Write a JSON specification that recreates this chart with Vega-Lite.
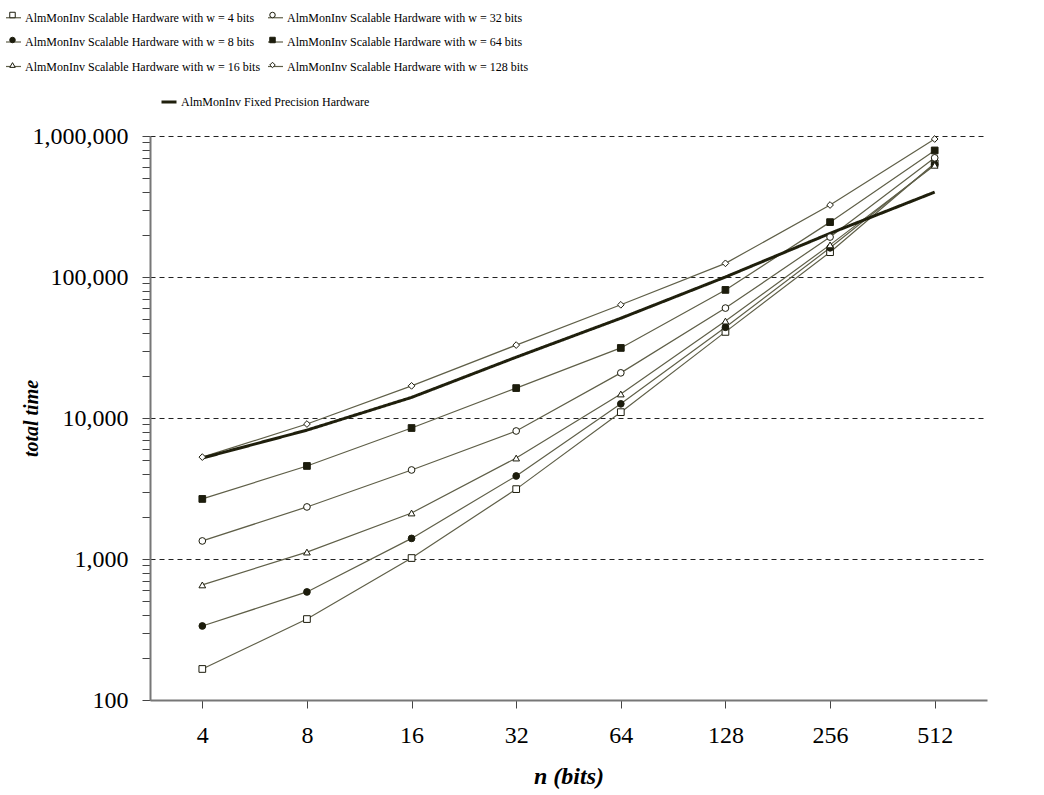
{
  "$schema": "https://vega.github.io/schema/vega-lite/v6.json",
  "width": 837,
  "height": 564,
  "autosize": {"type": "none"},
  "padding": {"left": 150, "top": 136, "right": 57, "bottom": 95},
  "background": "white",
  "config": {"font": "Liberation Serif", "view": {"stroke": null}},
  "datasets": {
    "rows": [
      {"n": 4, "t": 166, "s": "AlmMonInv Scalable Hardware with w = 4 bits", "m": "AlmMonInv Scalable Hardware with w = 4 bits"},
      {"n": 8, "t": 375, "s": "AlmMonInv Scalable Hardware with w = 4 bits", "m": "AlmMonInv Scalable Hardware with w = 4 bits"},
      {"n": 16, "t": 1016, "s": "AlmMonInv Scalable Hardware with w = 4 bits", "m": "AlmMonInv Scalable Hardware with w = 4 bits"},
      {"n": 32, "t": 3130, "s": "AlmMonInv Scalable Hardware with w = 4 bits", "m": "AlmMonInv Scalable Hardware with w = 4 bits"},
      {"n": 64, "t": 11000, "s": "AlmMonInv Scalable Hardware with w = 4 bits", "m": "AlmMonInv Scalable Hardware with w = 4 bits"},
      {"n": 128, "t": 40800, "s": "AlmMonInv Scalable Hardware with w = 4 bits", "m": "AlmMonInv Scalable Hardware with w = 4 bits"},
      {"n": 256, "t": 150000, "s": "AlmMonInv Scalable Hardware with w = 4 bits", "m": "AlmMonInv Scalable Hardware with w = 4 bits"},
      {"n": 512, "t": 640000, "s": "AlmMonInv Scalable Hardware with w = 4 bits", "m": "AlmMonInv Scalable Hardware with w = 4 bits"},

      {"n": 4, "t": 335, "s": "AlmMonInv Scalable Hardware with w = 8 bits", "m": "AlmMonInv Scalable Hardware with w = 8 bits"},
      {"n": 8, "t": 584, "s": "AlmMonInv Scalable Hardware with w = 8 bits", "m": "AlmMonInv Scalable Hardware with w = 8 bits"},
      {"n": 16, "t": 1400, "s": "AlmMonInv Scalable Hardware with w = 8 bits", "m": "AlmMonInv Scalable Hardware with w = 8 bits"},
      {"n": 32, "t": 3880, "s": "AlmMonInv Scalable Hardware with w = 8 bits", "m": "AlmMonInv Scalable Hardware with w = 8 bits"},
      {"n": 64, "t": 12600, "s": "AlmMonInv Scalable Hardware with w = 8 bits", "m": "AlmMonInv Scalable Hardware with w = 8 bits"},
      {"n": 128, "t": 44000, "s": "AlmMonInv Scalable Hardware with w = 8 bits", "m": "AlmMonInv Scalable Hardware with w = 8 bits"},
      {"n": 256, "t": 161000, "s": "AlmMonInv Scalable Hardware with w = 8 bits", "m": "AlmMonInv Scalable Hardware with w = 8 bits"},
      {"n": 512, "t": 630000, "s": "AlmMonInv Scalable Hardware with w = 8 bits", "m": "AlmMonInv Scalable Hardware with w = 8 bits"},

      {"n": 4, "t": 655, "s": "AlmMonInv Scalable Hardware with w = 16 bits", "m": "AlmMonInv Scalable Hardware with w = 16 bits"},
      {"n": 8, "t": 1120, "s": "AlmMonInv Scalable Hardware with w = 16 bits", "m": "AlmMonInv Scalable Hardware with w = 16 bits"},
      {"n": 16, "t": 2120, "s": "AlmMonInv Scalable Hardware with w = 16 bits", "m": "AlmMonInv Scalable Hardware with w = 16 bits"},
      {"n": 32, "t": 5200, "s": "AlmMonInv Scalable Hardware with w = 16 bits", "m": "AlmMonInv Scalable Hardware with w = 16 bits"},
      {"n": 64, "t": 14800, "s": "AlmMonInv Scalable Hardware with w = 16 bits", "m": "AlmMonInv Scalable Hardware with w = 16 bits"},
      {"n": 128, "t": 48700, "s": "AlmMonInv Scalable Hardware with w = 16 bits", "m": "AlmMonInv Scalable Hardware with w = 16 bits"},
      {"n": 256, "t": 169000, "s": "AlmMonInv Scalable Hardware with w = 16 bits", "m": "AlmMonInv Scalable Hardware with w = 16 bits"},
      {"n": 512, "t": 620000, "s": "AlmMonInv Scalable Hardware with w = 16 bits", "m": "AlmMonInv Scalable Hardware with w = 16 bits"},

      {"n": 4, "t": 1343, "s": "AlmMonInv Scalable Hardware with w = 32 bits", "m": "AlmMonInv Scalable Hardware with w = 32 bits"},
      {"n": 8, "t": 2340, "s": "AlmMonInv Scalable Hardware with w = 32 bits", "m": "AlmMonInv Scalable Hardware with w = 32 bits"},
      {"n": 16, "t": 4280, "s": "AlmMonInv Scalable Hardware with w = 32 bits", "m": "AlmMonInv Scalable Hardware with w = 32 bits"},
      {"n": 32, "t": 8090, "s": "AlmMonInv Scalable Hardware with w = 32 bits", "m": "AlmMonInv Scalable Hardware with w = 32 bits"},
      {"n": 64, "t": 20900, "s": "AlmMonInv Scalable Hardware with w = 32 bits", "m": "AlmMonInv Scalable Hardware with w = 32 bits"},
      {"n": 128, "t": 60200, "s": "AlmMonInv Scalable Hardware with w = 32 bits", "m": "AlmMonInv Scalable Hardware with w = 32 bits"},
      {"n": 256, "t": 192000, "s": "AlmMonInv Scalable Hardware with w = 32 bits", "m": "AlmMonInv Scalable Hardware with w = 32 bits"},
      {"n": 512, "t": 700000, "s": "AlmMonInv Scalable Hardware with w = 32 bits", "m": "AlmMonInv Scalable Hardware with w = 32 bits"},

      {"n": 4, "t": 2667, "s": "AlmMonInv Scalable Hardware with w = 64 bits", "m": "AlmMonInv Scalable Hardware with w = 64 bits"},
      {"n": 8, "t": 4570, "s": "AlmMonInv Scalable Hardware with w = 64 bits", "m": "AlmMonInv Scalable Hardware with w = 64 bits"},
      {"n": 16, "t": 8490, "s": "AlmMonInv Scalable Hardware with w = 64 bits", "m": "AlmMonInv Scalable Hardware with w = 64 bits"},
      {"n": 32, "t": 16300, "s": "AlmMonInv Scalable Hardware with w = 64 bits", "m": "AlmMonInv Scalable Hardware with w = 64 bits"},
      {"n": 64, "t": 31400, "s": "AlmMonInv Scalable Hardware with w = 64 bits", "m": "AlmMonInv Scalable Hardware with w = 64 bits"},
      {"n": 128, "t": 81000, "s": "AlmMonInv Scalable Hardware with w = 64 bits", "m": "AlmMonInv Scalable Hardware with w = 64 bits"},
      {"n": 256, "t": 245000, "s": "AlmMonInv Scalable Hardware with w = 64 bits", "m": "AlmMonInv Scalable Hardware with w = 64 bits"},
      {"n": 512, "t": 790000, "s": "AlmMonInv Scalable Hardware with w = 64 bits", "m": "AlmMonInv Scalable Hardware with w = 64 bits"},

      {"n": 4, "t": 5280, "s": "AlmMonInv Scalable Hardware with w = 128 bits", "m": "AlmMonInv Scalable Hardware with w = 128 bits"},
      {"n": 8, "t": 9060, "s": "AlmMonInv Scalable Hardware with w = 128 bits", "m": "AlmMonInv Scalable Hardware with w = 128 bits"},
      {"n": 16, "t": 16900, "s": "AlmMonInv Scalable Hardware with w = 128 bits", "m": "AlmMonInv Scalable Hardware with w = 128 bits"},
      {"n": 32, "t": 32900, "s": "AlmMonInv Scalable Hardware with w = 128 bits", "m": "AlmMonInv Scalable Hardware with w = 128 bits"},
      {"n": 64, "t": 63500, "s": "AlmMonInv Scalable Hardware with w = 128 bits", "m": "AlmMonInv Scalable Hardware with w = 128 bits"},
      {"n": 128, "t": 125000, "s": "AlmMonInv Scalable Hardware with w = 128 bits", "m": "AlmMonInv Scalable Hardware with w = 128 bits"},
      {"n": 256, "t": 324000, "s": "AlmMonInv Scalable Hardware with w = 128 bits", "m": "AlmMonInv Scalable Hardware with w = 128 bits"},
      {"n": 512, "t": 952000, "s": "AlmMonInv Scalable Hardware with w = 128 bits", "m": "AlmMonInv Scalable Hardware with w = 128 bits"},

      {"n": 4, "t": 5200, "s": "AlmMonInv Fixed Precision Hardware", "m": "AlmMonInv Fixed Precision Hardware"},
      {"n": 8, "t": 8200, "s": "AlmMonInv Fixed Precision Hardware", "m": "AlmMonInv Fixed Precision Hardware"},
      {"n": 16, "t": 14000, "s": "AlmMonInv Fixed Precision Hardware", "m": "AlmMonInv Fixed Precision Hardware"},
      {"n": 32, "t": 27000, "s": "AlmMonInv Fixed Precision Hardware", "m": "AlmMonInv Fixed Precision Hardware"},
      {"n": 64, "t": 51000, "s": "AlmMonInv Fixed Precision Hardware", "m": "AlmMonInv Fixed Precision Hardware"},
      {"n": 128, "t": 100000, "s": "AlmMonInv Fixed Precision Hardware", "m": "AlmMonInv Fixed Precision Hardware"},
      {"n": 256, "t": 204000, "s": "AlmMonInv Fixed Precision Hardware", "m": "AlmMonInv Fixed Precision Hardware"},
      {"n": 512, "t": 400000, "s": "AlmMonInv Fixed Precision Hardware", "m": "AlmMonInv Fixed Precision Hardware"}
    ]
  },
  "data": {"name": "rows"},
  "encoding": {
    "x": {
      "field": "n",
      "type": "ordinal",
      "scale": {"type": "point", "padding": 0.5},
      "axis": {
        "title": "n (bits)",
        "titleFont": "Liberation Serif",
        "titleFontStyle": "italic",
        "titleFontWeight": "bold",
        "titleFontSize": 24,
        "titleColor": "black",
        "titlePadding": 17,
        "labelAngle": 0,
        "labelFont": "Liberation Serif",
        "labelFontSize": 24,
        "labelColor": "black",
        "labelPadding": 15,
        "tickSize": 8,
        "tickColor": "#444444",
        "domainColor": "#777777",
        "domainWidth": 2,
        "grid": false
      }
    },
    "y": {
      "field": "t",
      "type": "quantitative",
      "scale": {"type": "log", "domain": [100, 1000000]},
      "axis": {
        "title": "total time",
        "titleFont": "Liberation Serif",
        "titleFontStyle": "italic",
        "titleFontWeight": "bold",
        "titleFontSize": 20,
        "titleColor": "black",
        "titleX": -119,
        "titleBaseline": "middle",
        "values": [100, 200, 300, 400, 500, 600, 700, 800, 900, 1000, 2000, 3000, 4000, 5000, 6000, 7000, 8000, 9000, 10000, 20000, 30000, 40000, 50000, 60000, 70000, 80000, 90000, 100000, 200000, 300000, 400000, 500000, 600000, 700000, 800000, 900000, 1000000],
        "labelExpr": "indexof([100,1000,10000,100000,1000000], datum.value) >= 0 ? format(datum.value, ',') : ''",
        "labelFont": "Liberation Serif",
        "labelFontSize": 24,
        "labelColor": "black",
        "labelPadding": 14,
        "labelOverlap": false,
        "tickSize": 8,
        "tickColor": "#444444",
        "domainColor": "#777777",
        "domainWidth": 2,
        "grid": true,
        "gridColor": "#222222",
        "gridWidth": 1,
        "gridDash": [5, 4],
        "gridOpacity": {"condition": {"test": "indexof([1000,10000,100000,1000000], datum.value) >= 0", "value": 1}, "value": 0}
      }
    }
  },
  "layer": [
    {
      "transform": [{"filter": "datum.s != 'AlmMonInv Fixed Precision Hardware'"}],
      "mark": {"type": "line", "strokeWidth": 1.2},
      "encoding": {
        "color": {
          "field": "s",
          "type": "nominal",
          "sort": ["AlmMonInv Scalable Hardware with w = 4 bits", "AlmMonInv Scalable Hardware with w = 32 bits", "AlmMonInv Scalable Hardware with w = 8 bits", "AlmMonInv Scalable Hardware with w = 64 bits", "AlmMonInv Scalable Hardware with w = 16 bits", "AlmMonInv Scalable Hardware with w = 128 bits"],
          "scale": {"range": ["#5f5f48", "#5f5f48", "#5f5f48", "#5f5f48", "#5f5f48", "#5f5f48"]},
          "legend": {
            "orient": "none",
            "legendX": -145,
            "legendY": -127,
            "columns": 2,
            "direction": "horizontal",
            "title": null,
            "symbolType": "stroke",
            "symbolSize": 225,
            "symbolStrokeWidth": 1.2,
            "labelFont": "Liberation Serif",
            "labelFontSize": 12,
            "labelColor": "black",
            "labelLimit": 500,
            "labelOffset": 3,
            "rowPadding": 9.5,
            "columnPadding": 4
          }
        }
      }
    },
    {
      "transform": [{"filter": "datum.s == 'AlmMonInv Fixed Precision Hardware'"}],
      "mark": {"type": "line", "color": "#1f1f0c", "strokeWidth": 3},
      "encoding": {
        "strokeDash": {
          "field": "s",
          "type": "nominal",
          "scale": {"domain": ["AlmMonInv Fixed Precision Hardware"], "range": [[1, 0]]},
          "legend": {
            "orient": "none",
            "legendX": 10,
            "legendY": -43,
            "title": null,
            "symbolType": "stroke",
            "symbolSize": 225,
            "symbolStrokeWidth": 3,
            "symbolStrokeColor": "#1f1f0c",
            "labelFont": "Liberation Serif",
            "labelFontSize": 12,
            "labelColor": "black",
            "labelLimit": 500,
            "labelOffset": 3
          }
        }
      }
    },
    {
      "transform": [{"filter": "datum.s != 'AlmMonInv Fixed Precision Hardware'"}],
      "mark": {"type": "point", "filled": true, "size": 45, "strokeWidth": 1, "opacity": 1},
      "encoding": {
        "shape": {
          "field": "m",
          "type": "nominal",
          "scale": {
            "domain": ["AlmMonInv Scalable Hardware with w = 4 bits", "AlmMonInv Scalable Hardware with w = 32 bits", "AlmMonInv Scalable Hardware with w = 8 bits", "AlmMonInv Scalable Hardware with w = 64 bits", "AlmMonInv Scalable Hardware with w = 16 bits", "AlmMonInv Scalable Hardware with w = 128 bits"],
            "range": ["square", "circle", "circle", "square", "triangle-up", "diamond"]
          },
          "legend": {
            "orient": "none",
            "legendX": -143.5,
            "legendY": -127,
            "columns": 2,
            "direction": "horizontal",
            "title": null,
            "symbolSize": 30,
            "symbolStrokeWidth": 1,
            "labelFont": "Liberation Serif",
            "labelFontSize": 12,
            "labelColor": "black",
            "labelOpacity": 0,
            "labelLimit": 500,
            "labelOffset": 8.7,
            "rowPadding": 13,
            "columnPadding": 4
          }
        },
        "fill": {
          "field": "m",
          "type": "nominal",
          "scale": {
            "domain": ["AlmMonInv Scalable Hardware with w = 4 bits", "AlmMonInv Scalable Hardware with w = 32 bits", "AlmMonInv Scalable Hardware with w = 8 bits", "AlmMonInv Scalable Hardware with w = 64 bits", "AlmMonInv Scalable Hardware with w = 16 bits", "AlmMonInv Scalable Hardware with w = 128 bits"],
            "range": ["white", "white", "#1c1c0c", "#1c1c0c", "white", "white"]
          },
          "legend": {
            "orient": "none",
            "legendX": -143.5,
            "legendY": -127,
            "columns": 2,
            "direction": "horizontal",
            "title": null,
            "symbolSize": 30,
            "symbolStrokeWidth": 1,
            "labelFont": "Liberation Serif",
            "labelFontSize": 12,
            "labelColor": "black",
            "labelOpacity": 0,
            "labelLimit": 500,
            "labelOffset": 8.7,
            "rowPadding": 13,
            "columnPadding": 4
          }
        },
        "stroke": {
          "field": "m",
          "type": "nominal",
          "scale": {
            "domain": ["AlmMonInv Scalable Hardware with w = 4 bits", "AlmMonInv Scalable Hardware with w = 32 bits", "AlmMonInv Scalable Hardware with w = 8 bits", "AlmMonInv Scalable Hardware with w = 64 bits", "AlmMonInv Scalable Hardware with w = 16 bits", "AlmMonInv Scalable Hardware with w = 128 bits"],
            "range": ["#1c1c0c", "#1c1c0c", "#1c1c0c", "#1c1c0c", "#1c1c0c", "#1c1c0c"]
          },
          "legend": {
            "orient": "none",
            "legendX": -143.5,
            "legendY": -127,
            "columns": 2,
            "direction": "horizontal",
            "title": null,
            "symbolSize": 30,
            "symbolStrokeWidth": 1,
            "labelFont": "Liberation Serif",
            "labelFontSize": 12,
            "labelColor": "black",
            "labelOpacity": 0,
            "labelLimit": 500,
            "labelOffset": 8.7,
            "rowPadding": 13,
            "columnPadding": 4
          }
        }
      }
    }
  ]
}
